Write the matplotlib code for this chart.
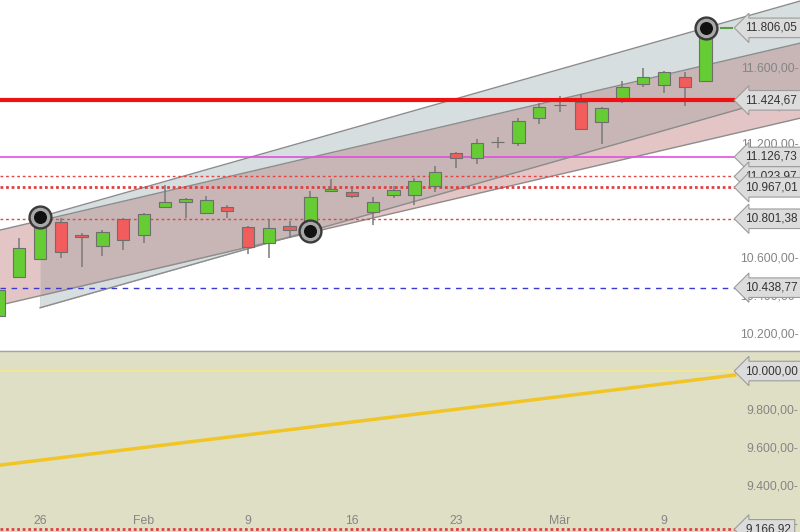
import numpy as np
import matplotlib
matplotlib.use("Agg")
import matplotlib.pyplot as plt
from matplotlib.ticker import FuncFormatter

# daily candles, 22 Jan - 11 Mar (trading days)
days = ["01-22", "01-23", "01-26", "01-27", "01-28", "01-29", "01-30",
        "02-02", "02-03", "02-04", "02-05", "02-06", "02-09", "02-10",
        "02-11", "02-12", "02-13", "02-16", "02-17", "02-18", "02-19",
        "02-20", "02-23", "02-24", "02-25", "02-26", "02-27", "03-02",
        "03-03", "03-04", "03-05", "03-06", "03-09", "03-10", "03-11"]
opens = [10289, 10495, 10589, 10784, 10716, 10658, 10800, 10716, 10863, 10889,
         10832, 10863, 10758, 10674, 10763, 10768, 10947, 10942, 10837, 10926,
         10926, 10974, 11147, 11121, 11203, 11200, 11332, 11399, 11416, 11310,
         11426, 11510, 11505, 11547, 11526]
highs = [10437, 10700, 10811, 10805, 10726, 10742, 10805, 10832, 10979, 10910,
         10921, 10874, 10763, 10800, 10790, 10947, 11010, 10963, 10916, 10974,
         11016, 11079, 11153, 11221, 11232, 11332, 11410, 11447, 11458, 11389,
         11526, 11595, 11579, 11574, 11806.05]
lows = [10284, 10489, 10584, 10595, 10547, 10605, 10637, 10674, 10863, 10805,
        10826, 10805, 10616, 10595, 10700, 10737, 10947, 10910, 10768, 10910,
        10874, 10942, 11068, 11089, 11174, 11184, 11300, 11363, 11274, 11195,
        11410, 11495, 11463, 11395, 11526]
closes = [10426, 10647, 10789, 10626, 10705, 10732, 10690, 10826, 10889, 10905,
          10900, 10842, 10653, 10753, 10742, 10916, 10958, 10921, 10889, 10953,
          11000, 11047, 11121, 11200, 11206, 11316, 11389, 11401, 11274, 11384,
          11495, 11547, 11574, 11495, 11779]

# trend channels (day index, 0 = 26 Jan)
gray_x = [0, 36.6]
gray_top = [10811, 11949]
gray_bot = [10333, 11471]
pink_x = [-2, 36.6]
pink_top = [10740, 11727]
pink_bot = [10345, 11332]

# moving average
ma_x = [-1.92, 8, 18, 28, 33.4]
ma_vals = [9505, 9638, 9772, 9906, 9979]

# horizontal marks
red_level = 11424.67
magenta_level = 11126.73
dotted_thin = [11023.97, 10801.38]
dotted_thick = [10967.01, 9166.92]
blue_level = 10438.77
yellow_level = 10000.00
zone_top = 10105
box_levels = [11806.05, 11424.67, 11126.73, 11023.97, 10967.01, 10801.38,
              10438.77, 10000.00, 9166.92]

tick_pos = [0, 5, 10, 15, 20, 25, 30]
tick_labels = ["26", "Feb", "9", "16", "23", "Mär", "9"]


def de_fmt(v):
    return f"{v:,.2f}".replace(",", "X").replace(".", ",").replace("X", ".")


plt.rcParams['font.family'] = ['Liberation Sans', 'DejaVu Sans']

fig = plt.figure(figsize=(8, 5.32), dpi=100)
ax = fig.add_axes([0, 0, 1, 1])
xmin, xmax = -1.923, 36.54
line_end = 33.41
ax.set_xlim(xmin, xmax)
ax.set_ylim(9153, 11952.6)

x = np.arange(len(days)) - 2

# support zone at the bottom
ax.axhspan(9000, zone_top, color="#dfdfc6", zorder=0)
ax.axhline(zone_top, color="#a3a3a3", lw=1, zorder=0.5)

# channels
c_pink, c_gray, c_both = "#e3c5c5", "#d6dee0", "#c8b5b5"
ax.fill_between(pink_x, pink_bot, pink_top, color=c_pink, lw=0, zorder=0.6)
gx = np.array(gray_x, dtype=float)
B = np.interp(gx, pink_x, pink_top)
D = np.interp(gx, pink_x, pink_bot)
C = np.array(gray_bot, dtype=float)
ax.fill_between(gx, C, gray_top, color=c_gray, lw=0, zorder=0.7)
ax.fill_between(gx, C, B, color=c_both, lw=0, zorder=0.8)
ax.fill_between(gx, C, D, where=C < D, interpolate=True, color=c_gray, lw=0, zorder=0.9)
for xs, ys in [(pink_x, pink_top), (pink_x, pink_bot), (gray_x, gray_top), (gray_x, gray_bot)]:
    ax.plot(xs, ys, color="#8c8c8c", lw=1, zorder=1)

# horizontal lines
ax.hlines(yellow_level, xmin, line_end, color="#f3e98a", lw=1.2, zorder=1.5)
ax.plot(ma_x, ma_vals, color="#f2c526", lw=2.5, zorder=1.6)
ax.hlines(blue_level, xmin, line_end, color="#3a3ad0", lw=1, linestyles=(0, (4, 4)), zorder=2)
ax.hlines(dotted_thin, xmin, line_end, color="#e04848", lw=1, linestyles=(0, (2, 2)), zorder=2)
ax.hlines(dotted_thick, xmin, line_end, color="#e04040", lw=2, linestyles=(0, (1, 1)), zorder=2)
ax.hlines(magenta_level, xmin, line_end, color="#e050e0", lw=1.2, zorder=2)

# candles
o, h, l, c = map(np.array, (opens, highs, lows, closes))
up = c >= o
ax.vlines(x, l, h, color="#7a7a7a", lw=1.1, zorder=3)
body_col = np.where(up, "#66cc33", "#f25c5c")
ax.bar(x, np.abs(c - o) + 0.5, bottom=np.minimum(o, c), width=0.6,
       color=body_col, edgecolor="#6e6e6e", lw=0.8, zorder=3.5)

ax.hlines(red_level, xmin, line_end, color="#ee1111", lw=3, zorder=4)

# current price tick
ax.hlines(highs[-1], 32.7, 33.3, color="#5e9a40", lw=1.5, zorder=4)

# pivot circles
piv_x = [x[2], x[15], x[-1]]
piv_y = [highs[2], lows[15], highs[-1]]
ax.scatter(piv_x, piv_y, s=270, color="#3a3a3a", zorder=5)
ax.scatter(piv_x, piv_y, s=170, color="#a8a8a8", zorder=5.1)
ax.scatter(piv_x, piv_y, s=70, color="#111111", zorder=5.2)

# price boxes
for lv in box_levels:
    ax.text(33.9, lv, de_fmt(lv), ha="left", va="center", fontsize=8.5, color="#333333",
            zorder=6, bbox=dict(boxstyle="larrow,pad=0.32", fc="#dcdcdc", ec="#9c9c9c", lw=0.8))

# axes styling
for sp in ax.spines.values():
    sp.set_visible(False)
ax.yaxis.tick_right()
ax.set_yticks(np.arange(9200, 11900, 200))
ax.yaxis.set_major_formatter(FuncFormatter(lambda v, p: de_fmt(v) + "-"))
ax.tick_params(axis="y", length=0, pad=-1, labelsize=8.8, labelcolor="#858585")
for lb in ax.get_yticklabels():
    lb.set_horizontalalignment("right")
ax.set_xticks(tick_pos, tick_labels)
ax.tick_params(axis="x", length=0, pad=-12, labelsize=8.8, labelcolor="#858585")

fig.savefig("out.png", dpi=100)
